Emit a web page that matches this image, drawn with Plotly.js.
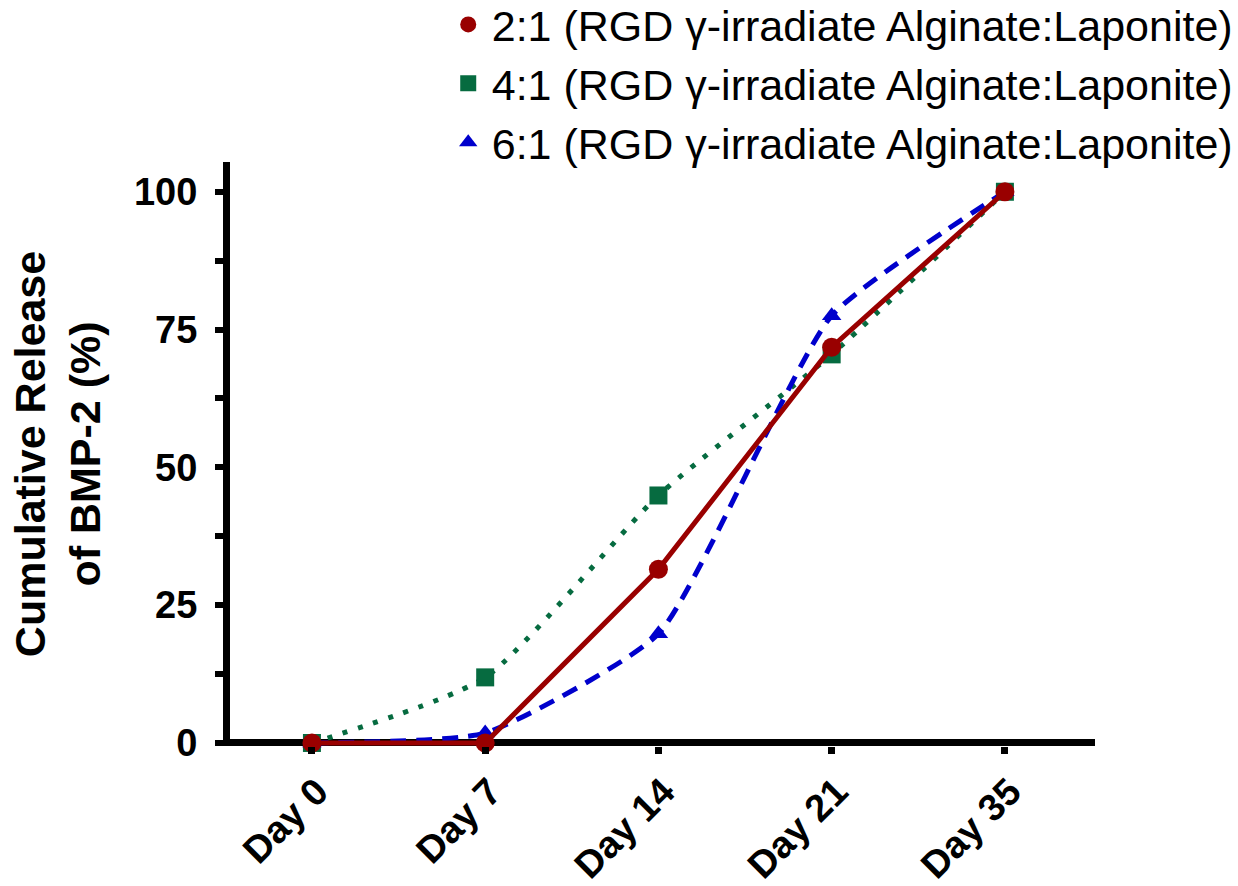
<!DOCTYPE html>
<html>
<head>
<meta charset="utf-8">
<script src="https://cdn.plot.ly/plotly-3.0.1.min.js"></script>
<style>html,body{margin:0;padding:0;background:#fff;}#chart{width:1238px;height:886px;}</style>
</head>
<body>
<div id="chart"></div>
<script>
const days = ["Day 0", "Day 7", "Day 14", "Day 21", "Day 35"];
const ratio21 = [0, 0, 31.5, 71.8, 100];
const ratio41 = [0, 11.9, 44.9, 70.5, 100];
const ratio61 = [0, 1.8, 19.8, 77.5, 100];
const names = [
  "2:1 (RGD \u03b3-irradiate Alginate:Laponite)",
  "4:1 (RGD \u03b3-irradiate Alginate:Laponite)",
  "6:1 (RGD \u03b3-irradiate Alginate:Laponite)"
];
const colors = ["#990000", "#066b40", "#0000cc"];
const FONT = "Liberation Sans, Arial, sans-serif";

const traces = [
  {x: days, y: ratio41, mode: "lines+markers", showlegend: false, cliponaxis: false,
   line: {color: colors[1], width: 5, dash: "5px,11px", shape: "spline", smoothing: 0.6},
   marker: {symbol: "square", size: 18, color: colors[1]}},
  {x: days, y: ratio61, mode: "lines+markers", showlegend: false, cliponaxis: false,
   line: {color: colors[2], width: 5, dash: "16px,10px", shape: "spline", smoothing: 0.5},
   marker: {symbol: "triangle-up", size: 17, color: colors[2]}},
  {x: days, y: ratio21, mode: "lines+markers", showlegend: false, cliponaxis: false,
   line: {color: colors[0], width: 5},
   marker: {symbol: "circle", size: 19, color: colors[0]}},
  // legend entries (markers only)
  {x: [null], y: [null], mode: "markers", name: names[0], marker: {symbol: "circle", size: 17, color: colors[0]}},
  {x: [null], y: [null], mode: "markers", name: names[1], marker: {symbol: "square", size: 16, color: colors[1]}},
  {x: [null], y: [null], mode: "markers", name: names[2], marker: {symbol: "triangle-up", size: 16, color: colors[2]}}
];

const layout = {
  width: 1238, height: 886,
  margin: {l: 230, r: 143, t: 162, b: 140, autoexpand: false},
  paper_bgcolor: "#fff", plot_bgcolor: "#fff",
  font: {family: FONT, color: "#000"},
  showlegend: true,
  legend: {
    x: 1.165, xanchor: "right", y: 1.2945, yanchor: "top",
    font: {family: FONT, size: 43, color: "#000"},
    bgcolor: "rgba(0,0,0,0)", traceorder: "normal", tracegroupgap: 0,
    itemwidth: 37
  },
  xaxis: {
    type: "category", range: [-0.473, 4.52],
    showline: false, showgrid: false, zeroline: false,
    ticks: "outside", ticklen: 7, tickwidth: 7, tickcolor: "#000",
    tickangle: -45, ticklabelshift: 5,
    tickfont: {family: FONT, size: 38, weight: "bold", color: "#000"}
  },
  yaxis: {
    range: [-0.55, 105.4],
    showline: true, linewidth: 7, linecolor: "#000",
    showgrid: false,
    zeroline: true, zerolinewidth: 7, zerolinecolor: "#000",
    tickvals: [0, 25, 50, 75, 100],
    ticks: "outside", ticklen: 8, tickwidth: 6, tickcolor: "#000",
    ticklabelstandoff: 10,
    minor: {tickvals: [12.5, 37.5, 62.5, 87.5], ticks: "outside", ticklen: 8, tickwidth: 6, tickcolor: "#000"},
    tickfont: {family: FONT, size: 38, weight: "bold", color: "#000"},
    title: {text: "Cumulative Release<br>of BMP-2 (%)", standoff: 22,
            font: {family: FONT, size: 43, weight: "bold", color: "#000"}}
  }
};

Plotly.newPlot("chart", traces, layout, {displayModeBar: false, staticPlot: true});
</script>
</body>
</html>
